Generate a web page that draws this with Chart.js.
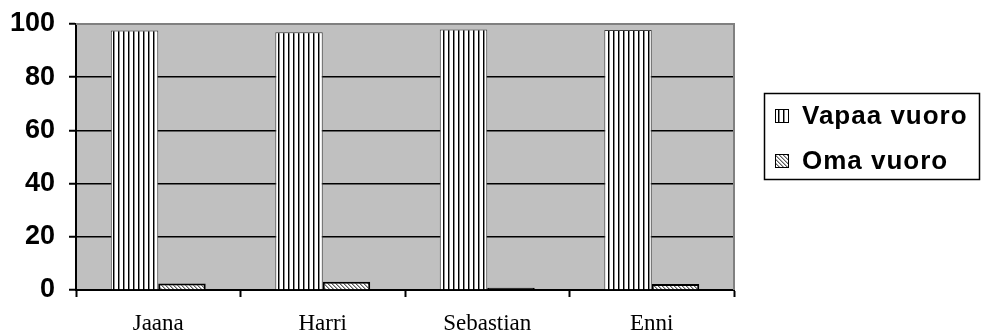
<!DOCTYPE html>
<html>
<head>
<meta charset="utf-8">
<script src="https://cdn.jsdelivr.net/npm/chart.js@4/dist/chart.umd.min.js"></script>
<style>
  html, body { margin: 0; padding: 0; background: #ffffff; }
  canvas { display: block; }
</style>
</head>
<body>
<canvas id="c" width="981" height="335"></canvas>
<script>
// Players and their share of turns (percent)
const categories = ['Jaana', 'Harri', 'Sebastian', 'Enni'];
const vapaaVuoro = [97.6, 96.9, 97.9, 97.7];
const omaVuoro = [2.4, 3.1, 0.8, 2.3];
const seriesNames = ['Vapaa vuoro', 'Oma vuoro'];
const yTicks = [0, 20, 40, 60, 80, 100];

// Fill patterns: vertical stripes and diagonal hatch
function stripePattern() {
  const t = document.createElement('canvas');
  t.width = 5; t.height = 5;
  const g = t.getContext('2d');
  g.fillStyle = '#ffffff'; g.fillRect(0, 0, 5, 5);
  g.fillStyle = '#000000'; g.fillRect(3, 0, 1, 5);
  g.fillStyle = '#8a8a8a'; g.fillRect(4, 0, 1, 5);
  return g.createPattern(t, 'repeat');
}
function hatchPattern() {
  const t = document.createElement('canvas');
  t.width = 4; t.height = 4;
  const g = t.getContext('2d');
  g.fillStyle = '#ffffff'; g.fillRect(0, 0, 4, 4);
  g.fillStyle = '#606060';
  for (let i = 0; i < 4; i++) g.fillRect(i, i, 1, 1);
  g.fillStyle = '#b0b0b0';
  for (let i = 0; i < 4; i++) g.fillRect((i + 1) % 4, i, 1, 1);
  return g.createPattern(t, 'repeat');
}
const stripes = stripePattern();
const hatch = hatchPattern();
const legendFills = [stripes, hatch];

// Grey plot background plus the grey frame on top and right
const plotFrame = {
  id: 'plotFrame',
  beforeDraw(chart) {
    const a = chart.chartArea, ctx = chart.ctx;
    ctx.save();
    ctx.fillStyle = '#c0c0c0';
    ctx.fillRect(a.left, a.top, a.right - a.left, a.bottom - a.top);
    ctx.restore();
  },
  afterDatasetsDraw(chart) {
    const a = chart.chartArea, ctx = chart.ctx;
    ctx.save();
    ctx.strokeStyle = '#808080';
    ctx.lineWidth = 2;
    ctx.beginPath();
    ctx.moveTo(a.left, a.top);
    ctx.lineTo(a.right, a.top);
    ctx.lineTo(a.right, a.bottom);
    ctx.stroke();
    ctx.restore();
  }
};

// Boxed legend on the right
const boxLegend = {
  id: 'boxLegend',
  afterDraw(chart) {
    const ctx = chart.ctx;
    const left = 764, top = 93, right = 980, bottom = 180;
    ctx.save();
    ctx.fillStyle = '#ffffff';
    ctx.fillRect(left, top, right - left, bottom - top);
    ctx.strokeStyle = '#000000';
    ctx.lineWidth = 1.5;
    ctx.strokeRect(left + 0.5, top + 0.5, right - left - 1, bottom - top - 1);
    const rows = [116, 161];
    chart.data.datasets.forEach((ds, i) => {
      const cy = rows[i];
      ctx.fillStyle = legendFills[i];
      ctx.fillRect(775, cy - 7, 14, 14);
      ctx.strokeStyle = '#000000';
      ctx.lineWidth = 1;
      ctx.strokeRect(775.5, cy - 6.5, 13, 13);
      ctx.fillStyle = '#000000';
      ctx.font = 'bold 26px "Liberation Sans", Arial, sans-serif';
      ctx.letterSpacing = '1px';
      ctx.textBaseline = 'middle';
      ctx.textAlign = 'left';
      ctx.fillText(ds.label, 802, cy + 1);
    });
    ctx.restore();
  }
};

new Chart(document.getElementById('c'), {
  type: 'bar',
  data: {
    labels: categories,
    datasets: [
      {
        label: seriesNames[0],
        data: vapaaVuoro,
        backgroundColor: stripes,
        borderColor: '#404040',
        borderWidth: 1,
        borderSkipped: 'bottom'
      },
      {
        label: seriesNames[1],
        data: omaVuoro,
        // very short bars show only their black outline
        backgroundColor: ctx => (ctx.raw !== undefined && ctx.raw < 1 ? '#000000' : hatch),
        borderColor: '#000000',
        borderWidth: 2,
        borderSkipped: 'bottom'
      }
    ]
  },
  options: {
    responsive: false,
    devicePixelRatio: 1,
    animation: false,
    layout: { padding: { left: 0, top: 24, right: 247, bottom: 0 } },
    datasets: { bar: { categoryPercentage: 0.577, barPercentage: 1.0 } },
    plugins: {
      legend: { display: false },
      tooltip: { enabled: false }
    },
    scales: {
      x: {
        grid: {
          offset: true,
          drawOnChartArea: false,
          drawTicks: true,
          tickLength: 7,
          tickColor: '#000000',
          tickWidth: 2
        },
        border: { display: true, color: '#000000', width: 2 },
        ticks: {
          color: '#000000',
          padding: 13,
          font: { family: '"Liberation Serif", "Times New Roman", serif', size: 23 }
        },
        afterFit(scale) { scale.height = 45; }
      },
      y: {
        min: 0,
        max: 100,
        afterBuildTicks(scale) { scale.ticks = yTicks.map(v => ({ value: v })); },
        afterFit(scale) {
          scale.width = 76;
          scale.paddingTop = 0;
          scale.paddingBottom = 0;
        },
        grid: {
          color: ctx => (ctx.tick && ctx.tick.value === 100 ? 'rgba(0,0,0,0)' : '#000000'),
          lineWidth: 1.5,
          drawTicks: true,
          tickLength: 7,
          tickColor: '#000000',
          tickWidth: 2
        },
        border: { display: true, color: '#000000', width: 2 },
        ticks: {
          color: '#000000',
          padding: 14,
          font: { family: '"Liberation Sans", Arial, sans-serif', size: 27, weight: 'bold', lineHeight: 1 }
        }
      }
    }
  },
  plugins: [plotFrame, boxLegend]
});
</script>
</body>
</html>
